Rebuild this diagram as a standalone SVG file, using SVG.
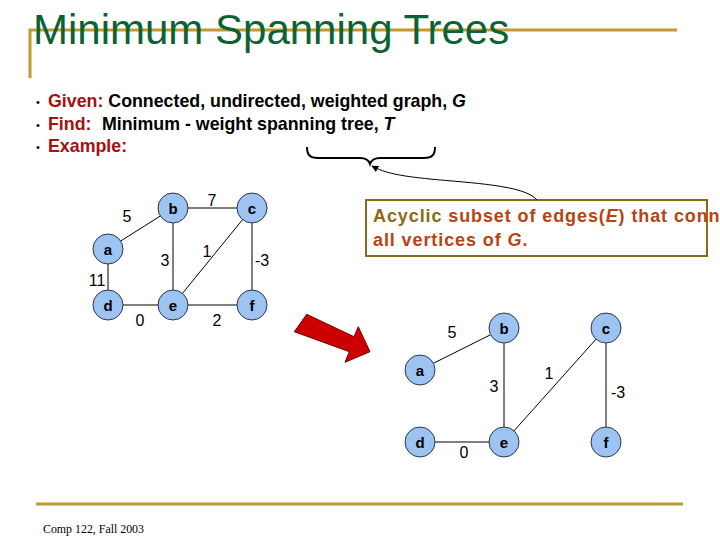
<svg xmlns="http://www.w3.org/2000/svg" width="720" height="540" viewBox="0 0 720 540">
<style>
.gold{stroke:#C09A30;stroke-width:3;fill:none}
.title{font-family:"Liberation Sans",Arial,sans-serif;font-size:42px;fill:#0B6333}
.bul{font-family:"Liberation Sans",Arial,sans-serif;font-size:17.8px;font-weight:bold;fill:#000}
.dot{font-family:"Liberation Sans",Arial,sans-serif;font-size:11px;fill:#000}
.red{fill:#A80F0F}
.it{font-style:italic}
.edge{stroke:#000;stroke-width:1;fill:none}
.node circle{fill:#9DC3F0;stroke:#2A3550;stroke-width:1}
.node text{font-family:"Liberation Sans",Arial,sans-serif;font-size:15px;font-weight:bold;text-anchor:middle;dominant-baseline:central;fill:#000}
.wt{font-family:"Liberation Sans",Arial,sans-serif;font-size:16px;text-anchor:middle;dominant-baseline:central;fill:#000}
.box{font-family:"Liberation Sans",Arial,sans-serif;font-size:18px;font-weight:bold;letter-spacing:0.9px;fill:#B84315}
</style>
<defs>
<marker id="ah" viewBox="0 0 10 10" refX="9" refY="5" markerWidth="7" markerHeight="7" orient="auto" markerUnits="userSpaceOnUse">
<path d="M0,0 L10,5 L0,10 z" fill="#000"/>
</marker>
</defs>

<!-- decorative frame -->
<path class="gold" d="M30,78 L30,30 L677,30"/>
<line class="gold" x1="36" y1="504" x2="683" y2="504"/>

<text class="title" x="33" y="44">Minimum Spanning Trees</text>

<g id="bullets">
<text class="dot" x="36" y="106">•</text>
<text class="bul" x="48" y="107"><tspan class="red">Given:</tspan> Connected, undirected, weighted graph, <tspan class="it">G</tspan></text>
<text class="dot" x="36" y="129">•</text>
<text class="bul" x="48" y="130"><tspan class="red">Find:</tspan><tspan x="102">Minimum - weight spanning tree, </tspan><tspan class="it">T</tspan></text>
<text class="dot" x="36" y="151">•</text>
<text class="bul red" x="48" y="152">Example:</text>
</g>

<!-- brace and callout -->
<g id="brace">
<path d="M307,147 C307,155 310,158 318,158 L360,158 C366,158 369,161 370,164 C371,161 374,158 380,158 L424,158 C432,158 435,155 435,147" stroke="#000" stroke-width="2" fill="none"/>
</g>
<g id="callout">
<rect x="366" y="200" width="341" height="56" fill="#fff" stroke="#8B6A1A" stroke-width="2"/>
<text class="box" x="373" y="222"><tspan fill="#8B6A14">Acyclic</tspan> subset of edges(<tspan class="it">E</tspan>) that conn</text>
<text class="box" x="373" y="246">all vertices of <tspan class="it">G</tspan>.</text>
</g>

<!-- big red arrow -->
<polygon id="bigarrow" points="294.3,331.7 306.7,314.3 354,336.7 358.3,326.7 370,351.7 345,362.3 349.3,351.7" fill="#CC0000" stroke="#7A0000" stroke-width="1"/>

<g id="connectors">
<path class="edge" d="M537,200 C525,185 470,183 430,179 C400,176 385,173 372,166" stroke-width="2" marker-end="url(#ah)"/>
<!-- graph G -->
<line class="edge" x1="108" y1="249" x2="173" y2="208"/>
<line class="edge" x1="173" y1="208" x2="252" y2="208"/>
<line class="edge" x1="173" y1="208" x2="173" y2="305"/>
<line class="edge" x1="252" y1="208" x2="173" y2="305"/>
<line class="edge" x1="252" y1="208" x2="252" y2="305"/>
<line class="edge" x1="108" y1="249" x2="108" y2="305"/>
<line class="edge" x1="108" y1="305" x2="173" y2="305"/>
<line class="edge" x1="173" y1="305" x2="252" y2="305"/>
<!-- tree T -->
<line class="edge" x1="420" y1="370" x2="504" y2="328"/>
<line class="edge" x1="504" y1="328" x2="504" y2="442"/>
<line class="edge" x1="606" y1="328" x2="504" y2="442"/>
<line class="edge" x1="606" y1="328" x2="606" y2="442"/>
<line class="edge" x1="420" y1="442" x2="504" y2="442"/>
</g>

<g id="weights">
<text class="wt" x="127" y="216">5</text>
<text class="wt" x="212" y="200">7</text>
<text class="wt" x="165" y="260">3</text>
<text class="wt" x="207" y="251">1</text>
<text class="wt" x="262" y="260">-3</text>
<text class="wt" x="97" y="280">11</text>
<text class="wt" x="140" y="320">0</text>
<text class="wt" x="217" y="320">2</text>
<text class="wt" x="452" y="332">5</text>
<text class="wt" x="494" y="386">3</text>
<text class="wt" x="549" y="373">1</text>
<text class="wt" x="618" y="392">-3</text>
<text class="wt" x="464" y="452">0</text>
</g>

<g id="g1-a" class="node"><circle cx="108" cy="249" r="15"/><text x="108" y="249">a</text></g>
<g id="g1-b" class="node"><circle cx="173" cy="208" r="15"/><text x="173" y="208">b</text></g>
<g id="g1-c" class="node"><circle cx="252" cy="208" r="15"/><text x="252" y="208">c</text></g>
<g id="g1-d" class="node"><circle cx="108" cy="305" r="15"/><text x="108" y="305">d</text></g>
<g id="g1-e" class="node"><circle cx="173" cy="305" r="15"/><text x="173" y="305">e</text></g>
<g id="g1-f" class="node"><circle cx="252" cy="305" r="15"/><text x="252" y="305">f</text></g>

<g id="g2-a" class="node"><circle cx="420" cy="370" r="15"/><text x="420" y="370">a</text></g>
<g id="g2-b" class="node"><circle cx="504" cy="328" r="15"/><text x="504" y="328">b</text></g>
<g id="g2-c" class="node"><circle cx="606" cy="328" r="15"/><text x="606" y="328">c</text></g>
<g id="g2-d" class="node"><circle cx="420" cy="442" r="15"/><text x="420" y="442">d</text></g>
<g id="g2-e" class="node"><circle cx="504" cy="442" r="15"/><text x="504" y="442">e</text></g>
<g id="g2-f" class="node"><circle cx="606" cy="442" r="15"/><text x="606" y="442">f</text></g>

<text x="43" y="533" font-family="'Liberation Serif','Times New Roman',serif" font-size="12.5" textLength="101" lengthAdjust="spacingAndGlyphs" fill="#000">Comp 122, Fall 2003</text>
</svg>
